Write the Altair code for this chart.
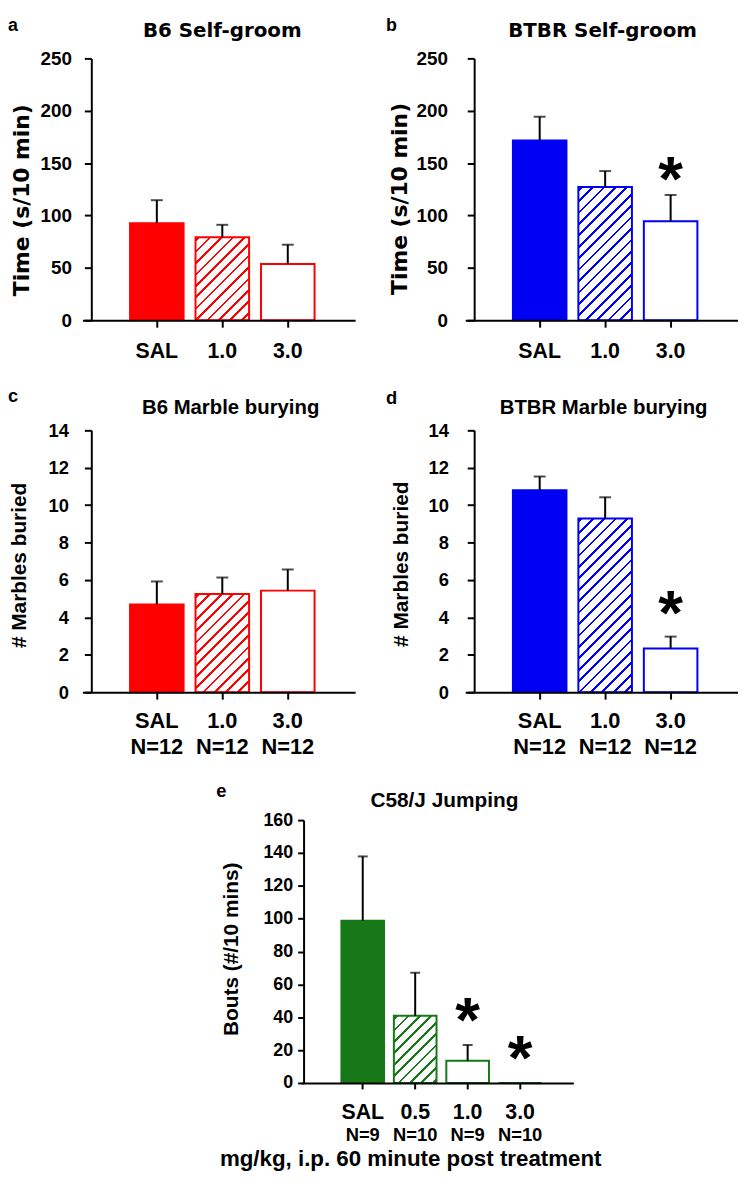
import altair as alt
import pandas as pd

ARIAL = "Liberation Sans"
DEJAVU = "DejaVu Sans"

# ---------------- data ----------------
doses_3 = ["SAL", "1.0", "3.0"]
doses_4 = ["SAL", "0.5", "1.0", "3.0"]
kinds_3 = ["solid", "hatch", "open"]
kinds_4 = ["solid", "hatch", "open", "open"]

b6_groom_mean = [92.7, 79.2, 53.8]
b6_groom_sem = [21.9, 11.9, 18.3]
btbr_groom_mean = [171.6, 127.2, 94.4]
btbr_groom_sem = [22.7, 15.2, 25.2]
b6_marble_mean = [4.69, 5.25, 5.43]
b6_marble_sem = [1.23, 0.88, 1.13]
btbr_marble_mean = [10.79, 9.28, 2.33]
btbr_marble_sem = [0.74, 1.14, 0.64]
c58_jump_mean = [98.8, 40.9, 13.5, 0.0]
c58_jump_sem = [39.1, 26.2, 9.6, 0.0]

n_marble = ["N=12", "N=12", "N=12"]
n_c58 = ["N=9", "N=10", "N=9", "N=10"]
sig_none = [False, False, False]
sig_btbr = [False, False, True]
sig_c58 = [False, False, True, True]

groom_ticks = [0, 50, 100, 150, 200, 250]
marble_ticks = [0, 2, 4, 6, 8, 10, 12, 14]
jump_ticks = [0, 20, 40, 60, 80, 100, 120, 140, 160]

RED = "#FF0000"
BLUE = "#0000F2"
GREEN = "#177817"


def make_df(doses, means, sems, kinds, ns, sig):
    return pd.DataFrame({
        "dose": doses,
        "mean": means,
        "sem": sems,
        "top": [m + s for m, s in zip(means, sems)],
        "kind": kinds,
        "n": ns,
        "sig": sig,
    })


def hatch_fill(color, w, h, period=11.5, thick=2.8):
    L = w + h
    s = L / (w * w + h * h)
    stops = []
    pos = 2.0
    while pos < L:
        a = pos / L
        b = min((pos + thick) / L, 1.0)
        stops += [
            alt.GradientStop(offset=a, color="white"),
            alt.GradientStop(offset=a, color=color),
            alt.GradientStop(offset=b, color=color),
            alt.GradientStop(offset=b, color="white"),
        ]
        pos += period
    return alt.LinearGradient(gradient="linear", x1=0, y1=0, x2=w * s, y2=h * s, stops=stops)


def panel(df, doses, color, ymax, yticks, sp):
    W = 275
    H = sp["h"]
    ytop = sp.get("ytop", 0)
    xr = sp.get("xrange", [0, W])
    n = len(doses)
    step = (xr[1] - xr[0]) / (n - sp["pi"] + 2 * sp["po"])
    bw = step * (1 - sp["pi"])

    xscale = alt.Scale(domain=doses, range=xr, paddingInner=sp["pi"],
                       paddingOuter=sp["po"], align=sp["align"])
    xaxis = alt.Axis(title=None, labelAngle=0, grid=False, tickSize=sp["xtick"], tickWidth=2,
                     tickColor="black", domainColor="black", domainWidth=2,
                     labelFont=ARIAL, labelFontSize=sp["xlab"], labelFontWeight="bold",
                     labelColor="black", labelBaseline="alphabetic",
                     labelPadding=sp["xpad"], zindex=1)
    yscale = alt.Scale(domain=[0, ymax], range=[H, ytop], nice=False, zero=True)
    yaxis = alt.Axis(title=None, values=yticks, grid=False, offset=sp["yoff"], tickSize=sp["ytick"],
                     tickWidth=2, tickColor="black", domainColor="black", domainWidth=2,
                     labelFont=ARIAL, labelFontSize=sp["ylab"], labelFontWeight="bold",
                     labelColor="black", labelPadding=sp["ypad"], zindex=1)

    X = alt.X("dose:N", scale=xscale, axis=xaxis, sort=doses)

    def Y(f):
        return alt.Y(f, scale=yscale, axis=yaxis)

    hatch_mean = float(df.loc[df["kind"] == "hatch", "mean"].iloc[0])
    hpx = hatch_mean / ymax * (H - ytop)

    base = alt.Chart(df)
    solid = base.mark_bar(fill=color, stroke=color, strokeWidth=2).encode(
        x=X, y=Y("mean:Q")).transform_filter("datum.kind == 'solid'")
    hatch = base.mark_bar(fill=hatch_fill(color, bw, hpx), stroke=color, strokeWidth=2).encode(
        x=X, y=Y("mean:Q")).transform_filter("datum.kind == 'hatch'")
    opened = base.mark_bar(fill="white", stroke=color, strokeWidth=2).encode(
        x=X, y=Y("mean:Q")).transform_filter("datum.kind == 'open'")
    err = base.mark_rule(color="black", strokeWidth=2).encode(
        x=X, y=Y("mean:Q"), y2="top:Q").transform_filter("datum.sem > 0")
    cap = base.mark_tick(color="black", thickness=2, size=sp["cap"]).encode(
        x=X, y=Y("top:Q")).transform_filter("datum.sem > 0")
    layers = [solid, hatch, opened, err, cap]

    if df["sig"].any():
        star = base.mark_text(text="*", font=ARIAL, fontWeight="bold", fontSize=sp["starsize"],
                              baseline="alphabetic", align="center", dy=sp["stardy"],
                              color="black").encode(
            x=X, y=Y("top:Q")).transform_filter("datum.sig")
        layers.append(star)

    if sp.get("nlab"):
        nl = base.mark_text(font=ARIAL, fontWeight="bold", fontSize=sp["nlab"],
                            baseline="alphabetic", align="center", color="black").encode(
            x=X, y=alt.value(H + sp["ny"]), text="n:N")
        layers.append(nl)

    one = pd.DataFrame({"t": [0]})

    # panel texts: letter, title, y-axis title, (optional) x title
    def txt(t, x, y, font, size, angle=0, align="center", baseline="alphabetic"):
        kw = dict(font=font, fontWeight="bold", fontSize=size, align=align,
                  baseline=baseline, color="black")
        if angle:
            kw["angle"] = angle
        return alt.Chart(pd.DataFrame({"t": [t]})).mark_text(**kw).encode(
            x=alt.value(x), y=alt.value(y), text="t:N")

    layers.append(txt(sp["letter"], sp["lx"], sp["ly"], ARIAL, sp["lsize"], align="left"))
    layers.append(txt(sp["title"], sp["tx"], sp["ty"], sp["tfont"], sp["tsize"]))
    layers.append(txt(sp["ytitle"], sp["ytx"], sp["yty"], sp["ytfont"], sp["ytsize"],
                      angle=270, baseline="middle"))
    if sp.get("xtitle"):
        layers.append(txt(sp["xtitle"], sp["xtx"], sp["xty"], ARIAL, 22.5))
    if sp.get("anchor") is not None:
        # invisible zero-size rule fixing the top edge of the figure
        layers.append(alt.Chart(one).mark_rule(opacity=0, strokeWidth=0).encode(
            x=alt.value(0), x2=alt.value(0), y=alt.value(sp["anchor"]), y2=alt.value(sp["anchor"])))

    return alt.layer(*layers).properties(width=W, height=H)


common = dict(pi=0.182, po=0.674, align=0.54, xtick=7, ytick=7, cap=12, yoff=-9)

sp_a = dict(common, h=264, xlab=21.5, xpad=30.5, ylab=19, ypad=13,
            letter="a", lx=-75, ly=-27.3, lsize=18, title="B6 Self-groom", tx=141, ty=-21.3,
            tfont=DEJAVU, tsize=20, ytitle="Time (s/10 min)", ytx=-61, yty=143,
            ytfont=DEJAVU, ytsize=22, anchor=-45.3)
sp_b = dict(common, h=264, xlab=21.5, xpad=30.5, ylab=19, ypad=20,
            letter="b", lx=-80, ly=-27.3, lsize=18, title="BTBR Self-groom", tx=138.5, ty=-21.3,
            tfont=DEJAVU, tsize=20, ytitle="Time (s/10 min)", ytx=-66, yty=141.7,
            ytfont=DEJAVU, ytsize=22, starsize=64, stardy=5)
sp_c = dict(common, h=264, xlab=22, xpad=28.7, ylab=18.5, ypad=16, nlab=22, ny=62.7,
            letter="c", lx=-75, ly=-28.3, lsize=18.5, title="B6 Marble burying", tx=149.5, ty=-16,
            tfont=ARIAL, tsize=20.5, ytitle="# Marbles buried", ytx=-63, yty=136.2,
            ytfont=ARIAL, ytsize=21)
sp_d = dict(common, h=264, xlab=22, xpad=28.7, ylab=18.5, ypad=19, nlab=22, ny=62.7,
            letter="d", lx=-80, ly=-26.3, lsize=18.5, title="BTBR Marble burying", tx=139.5, ty=-16,
            tfont=ARIAL, tsize=20.5, ytitle="# Marbles buried", ytx=-63.5, yty=135,
            ytfont=ARIAL, ytsize=21, starsize=64, stardy=-3)
sp_e = dict(h=283, ytop=18, xrange=[221, 495], pi=0.187, po=0.684, align=0.555,
            xtick=6, ytick=6, cap=10, yoff=-223, xlab=21.5, xpad=29.7, ylab=18, ypad=5,
            nlab=18.5, ny=58.7, letter="e", lx=135, ly=-5.3, lsize=18.5, title="C58/J Jumping",
            tx=365, ty=4.7, tfont=ARIAL, tsize=21, ytitle="Bouts (#/10 mins)",
            ytx=151, yty=148.2, ytfont=ARIAL, ytsize=21, starsize=64, stardy=-4,
            xtitle="mg/kg, i.p. 60 minute post treatment", xtx=331, xty=366.7)

pa = panel(make_df(doses_3, b6_groom_mean, b6_groom_sem, kinds_3, ["", "", ""], sig_none),
           doses_3, RED, 250, groom_ticks, sp_a)
pb = panel(make_df(doses_3, btbr_groom_mean, btbr_groom_sem, kinds_3, ["", "", ""], sig_btbr),
           doses_3, BLUE, 250, groom_ticks, sp_b)
pc = panel(make_df(doses_3, b6_marble_mean, b6_marble_sem, kinds_3, n_marble, sig_none),
           doses_3, RED, 14, marble_ticks, sp_c)
pd_ = panel(make_df(doses_3, btbr_marble_mean, btbr_marble_sem, kinds_3, n_marble, sig_btbr),
            doses_3, BLUE, 14, marble_ticks, sp_d)
pe = panel(make_df(doses_4, c58_jump_mean, c58_jump_sem, kinds_4, n_c58, sig_c58),
           doses_4, GREEN, 160, jump_ticks, sp_e)

chart = alt.concat(pa, pb, pc, pd_, pe, columns=2, spacing={"row": 111, "column": 111},
                   bounds="flush", align="each").properties(
    padding=0, background="white"
).configure_view(stroke=None)

chart.save("out.html", embed_options={"renderer": "svg", "actions": False})
